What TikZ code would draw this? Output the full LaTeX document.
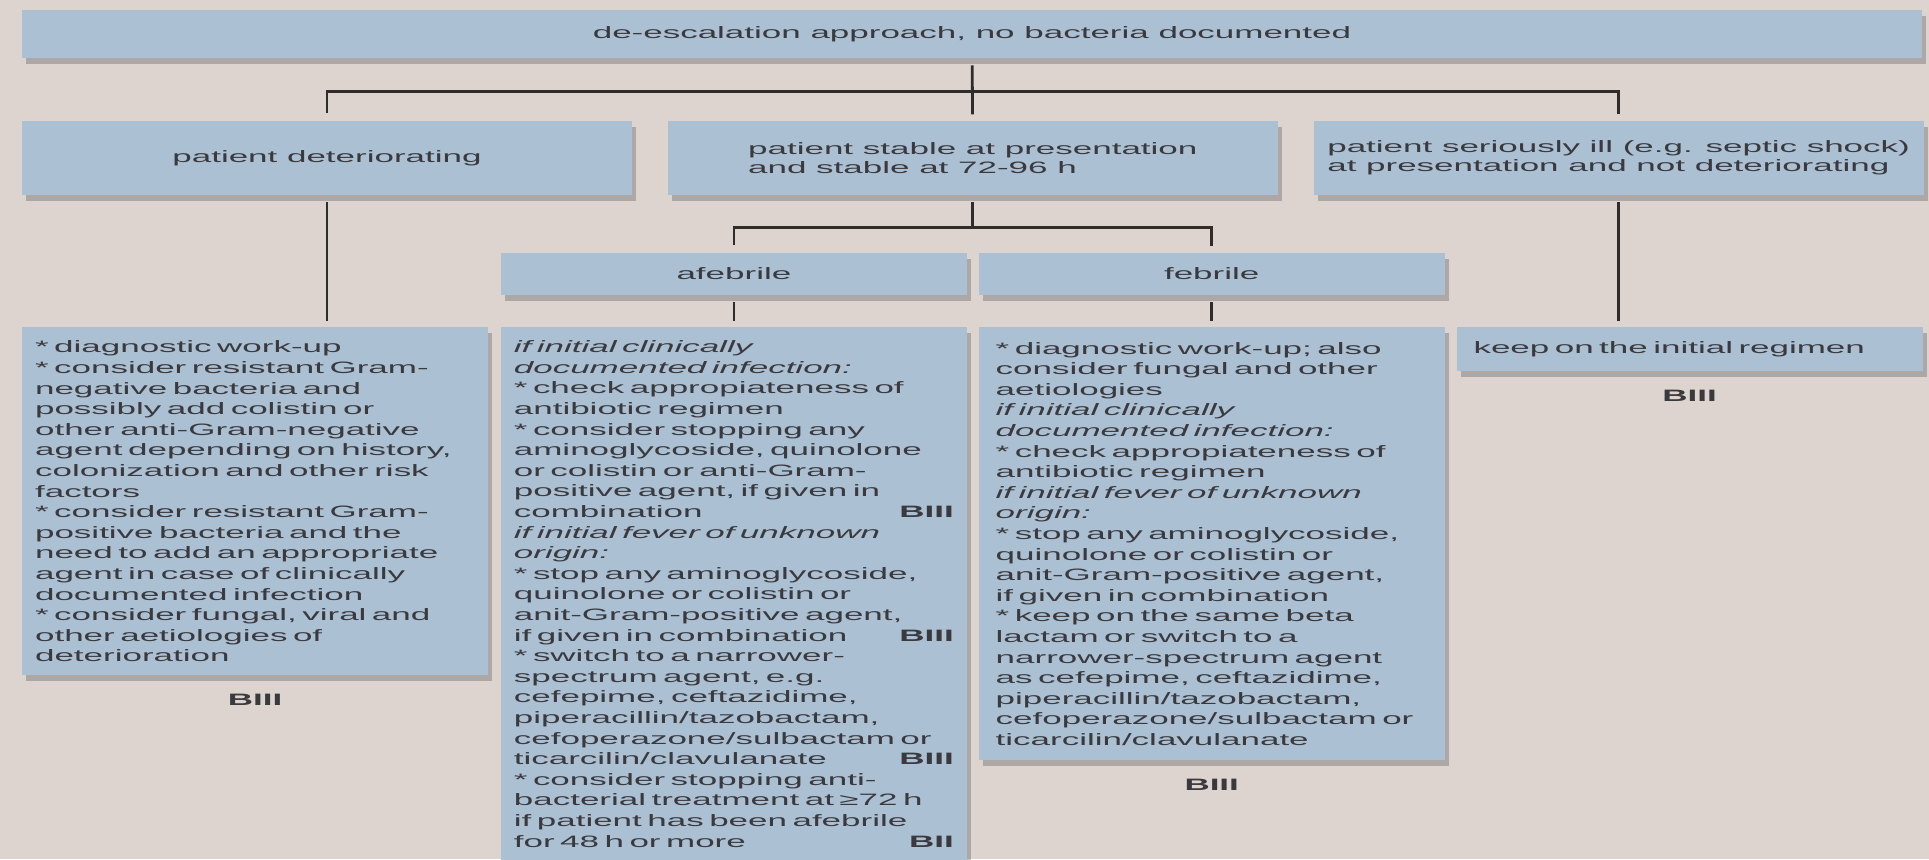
\documentclass[tikz,border=0pt]{standalone}
\usepackage{fontspec}
\setmainfont{Liberation Sans}[FakeStretch=2.12]
\usepackage{tikz}
\usetikzlibrary{positioning,shadows}
\definecolor{bgcol}{RGB}{221,212,207}
\definecolor{boxcol}{RGB}{172,192,211}
\definecolor{inkcol}{RGB}{58,58,62}
\definecolor{linecol}{RGB}{48,44,44}
\newcommand{\Cond}[1]{{\itshape #1}}
\newcommand{\Grade}[1]{\hfill\textbf{#1}}

\begin{document}
\begin{tikzpicture}[
    box/.style={
        fill=boxcol,
        text=inkcol,
        inner sep=0pt,
        drop shadow={shadow xshift=2pt, shadow yshift=-3pt, opacity=.4, fill=black!60},
        font=\fontsize{8.25pt}{9.6pt}\selectfont
    },
    headbox/.style={box, minimum width=950pt, minimum height=24pt},
    rowbox/.style={box, align=left, minimum width=305pt, minimum height=37pt},
    subbox/.style={box, minimum width=233pt, minimum height=21pt},
    notebox/.style={
        box,
        align=left,
        text width=#1,
        minimum width=233pt,
        font=\fontsize{8.25pt}{10.3pt}\selectfont
    },
    notebox/.default=216pt,
    grade/.style={
        text=inkcol,
        inner sep=0pt,
        font=\fontsize{8.25pt}{9.6pt}\selectfont\bfseries
    },
    link/.style={
        draw=linecol,
        line width=1.4pt,
        shorten <=3.5pt,
        shorten >=3pt
    }
]
\path[fill=bgcol, use as bounding box] (0,0) rectangle (964.5pt,-429.5pt);
\node[headbox] (top) at (486pt,-17pt)
{de-escalation approach, no bacteria documented};
\node[rowbox, below=31pt of top.south west, anchor=north west] (worse)
{patient deteriorating};
\node[rowbox, right=17.5pt of worse] (stable)
{patient stable at presentation\\
and stable at 72-96 h};
\node[rowbox, right=17.5pt of stable] (severe)
{patient seriously ill (e.g. septic shock)\\
at presentation and not deteriorating};
\node[subbox, below left=28.5pt and 2.75pt of stable.south] (afeb)
{afebrile};
\node[subbox, right=5.5pt of afeb] (feb)
{febrile};
\node[notebox=220pt, minimum height=266.5pt, below=16pt of afeb] (afebnote)
{\Cond{if initial clinically}\\
\Cond{documented infection:}\\
{*} check appropiateness of\\
antibiotic regimen\\
{*} consider stopping any\\
aminoglycoside, quinolone\\
or colistin or anti-Gram-\\
positive agent, if given in\\
combination\Grade{BIII}\\
\Cond{if initial fever of unknown}\\
\Cond{origin:}\\
{*} stop any aminoglycoside,\\
quinolone or colistin or\\
anit-Gram-positive agent,\\
if given in combination\Grade{BIII}\\
{*} switch to a narrower-\\
spectrum agent, e.g.\\
cefepime, ceftazidime,\\
piperacillin/tazobactam,\\
cefoperazone/sulbactam or\\
ticarcilin/clavulanate\Grade{BIII}\\
{*} consider stopping anti-\\
bacterial treatment at ≥72 h\\
if patient has been afebrile\\
for 48 h or more\Grade{BII}};
\node[notebox, minimum height=216.5pt, below=16pt of feb] (febnote)
{{*} diagnostic work-up; also\\
consider fungal and other\\
aetiologies\\
\Cond{if initial clinically}\\
\Cond{documented infection:}\\
{*} check appropiateness of\\
antibiotic regimen\\
\Cond{if initial fever of unknown}\\
\Cond{origin:}\\
{*} stop any aminoglycoside,\\
quinolone or colistin or\\
anit-Gram-positive agent,\\
if given in combination\\
{*} keep on the same beta\\
lactam or switch to a\\
narrower-spectrum agent\\
as cefepime, ceftazidime,\\
piperacillin/tazobactam,\\
cefoperazone/sulbactam or\\
ticarcilin/clavulanate};
\node[notebox=220pt, minimum height=174pt, left=6pt of afebnote.north west, anchor=north east] (worsenote)
{{*} diagnostic work-up\\
{*} consider resistant Gram-\\
negative bacteria and\\
possibly add colistin or\\
other anti-Gram-negative\\
agent depending on history,\\
colonization and other risk\\
factors\\
{*} consider resistant Gram-\\
positive bacteria and the\\
need to add an appropriate\\
agent in case of clinically\\
documented infection\\
{*} consider fungal, viral and\\
other aetiologies of\\
deterioration};
\node[notebox, minimum height=22pt, right=5.5pt of febnote.north east, anchor=north west] (keepnote)
{keep on the initial regimen};
\node[grade, below=9pt of worsenote] (worsegrade) {BIII};
\node[grade, below=9pt of febnote] (febgrade) {BIII};
\node[grade, below=9pt of keepnote] (keepgrade) {BIII};
\coordinate[below=16.5pt of top.south] (split);
\coordinate[below=16pt of stable.south] (subsplit);
\draw[link] (top) -- (stable);
\draw[link] (worse.north) |- (split) -| (severe.north);
\draw[link, shorten >=0pt] (stable) -- (subsplit);
\draw[link] (afeb.north) |- (subsplit) -| (feb.north);
\draw[link] (worse.south) -- (worse.south |- worsenote.north);
\draw[link] (severe.south) -- (severe.south |- keepnote.north);
\draw[link] (afeb) -- (afebnote);
\draw[link] (feb) -- (febnote);
\end{tikzpicture}
\end{document}
